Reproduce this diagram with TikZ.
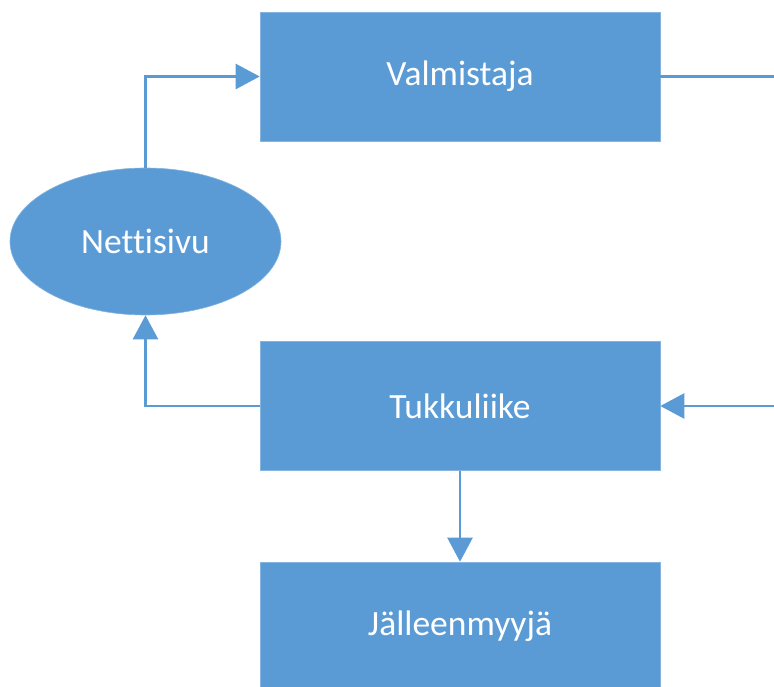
\documentclass[tikz,border=0pt]{standalone}
\usepackage{fontspec}
\setmainfont{Carlito}[Ligatures=NoCommon]
\usetikzlibrary{arrows.meta,shapes.geometric}
\definecolor{officeblue}{HTML}{5B9BD5}

\begin{document}
\begin{tikzpicture}[x=1pt,y=-1pt,>={Triangle[length=24pt,width=25pt]},
    box/.style={draw=officeblue!75!white,line width=.6pt,fill=officeblue,text=white,
      minimum width=400pt,minimum height=129pt,inner sep=0pt,font=\fontsize{35.5}{42}\selectfont},
    conn/.style={officeblue,line width=2.5pt}]
  \clip (0,0) rectangle (774,687);
  \node[box] (valm) at (460,76.5) {Valmistaja};
  \node[box] (tukku) at (460,406) {Tukkuliike};
  \node[box] (jalleen) at (460,626.5) {Jälleenmyyjä};
  \node[box,ellipse,minimum width=271pt,minimum height=147pt] (netti) at (145.5,241.5) {Nettisivu};
  \coordinate (outtop) at (774,76.5);
  \coordinate (outbot) at (774,406);

  \draw[conn,->] (netti.north) |- (valm.west);
  \draw[conn] (valm.east) -- (outtop);
  \draw[conn,->] (outbot) -- (tukku.east);
  \draw[conn,->] (tukku.west) -| (netti.south);
  \draw[conn,->] (tukku.south) -- (jalleen.north);
\end{tikzpicture}
\end{document}
